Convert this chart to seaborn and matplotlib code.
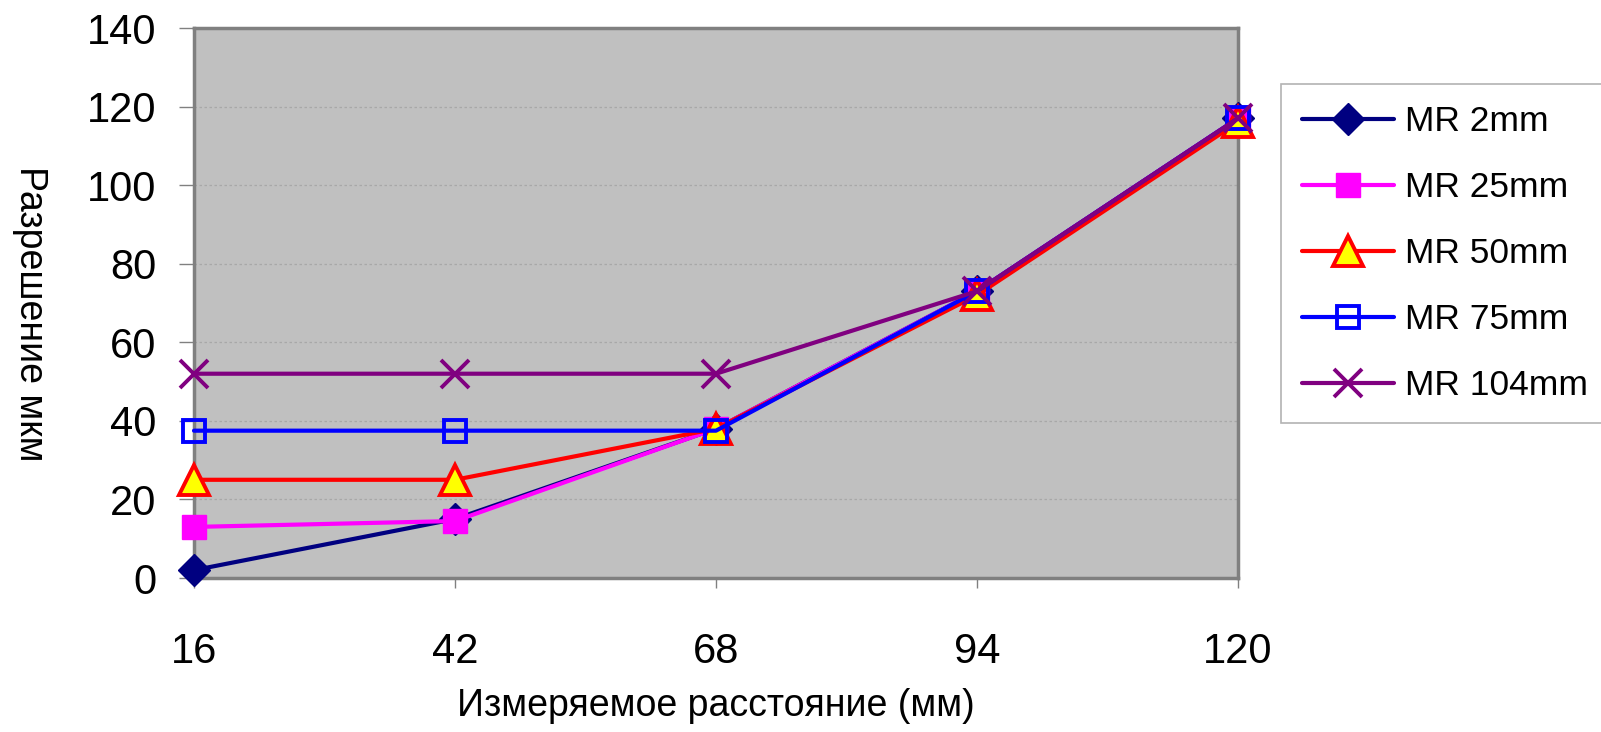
import matplotlib
matplotlib.use("Agg")
import matplotlib.pyplot as plt
import seaborn as sns
import pandas as pd

distances = [16, 42, 68, 94, 120]
mr_2mm = [2, 15, 38, 73, 117]
mr_25mm = [13, 14.5, 38, 73, 117]
mr_50mm = [25, 25, 38, 72, 116]
mr_75mm = [37.5, 37.5, 37.5, 73, 117]
mr_104mm = [52, 52, 52, 73, 117]
series_names = ["MR 2mm", "MR 25mm", "MR 50mm", "MR 75mm", "MR 104mm"]
y_ticks = [0, 20, 40, 60, 80, 100, 120, 140]
x_label = "Измеряемое расстояние (мм)"
y_label = "Разрешение мкм"

sns.set_theme(style="white")
plt.rcParams['font.family'] = ['Liberation Sans', 'DejaVu Sans']

fig = plt.figure(figsize=(16.01, 7.32), dpi=100)
ax = fig.add_axes([194/1601, 1-578/732, (1238-194)/1601, (578-28)/732])
ax.set_facecolor("#C0C0C0")

styles = [
    dict(color="#000080", marker="D", markersize=16, markerfacecolor="#000080", markeredgecolor="#000080", markeredgewidth=1),
    dict(color="#FF00FF", marker="s", markersize=17, markerfacecolor="#FF00FF", markeredgecolor="#FF00FF", markeredgewidth=1),
    dict(color="#FF0000", marker="^", markersize=22, markerfacecolor="#FFFF00", markeredgecolor="#FF0000", markeredgewidth=2.8),
    dict(color="#0000FF", marker="s", markersize=16, markerfacecolor="none", markeredgecolor="#0000FF", markeredgewidth=2.8),
    dict(color="#800080", marker="x", markersize=20, markeredgecolor="#800080", markeredgewidth=2.8),
]
data = [mr_2mm, mr_25mm, mr_50mm, mr_75mm, mr_104mm]
for name, vals, st in zip(series_names, data, styles):
    df = pd.DataFrame({"x": distances, "y": vals})
    sns.lineplot(data=df, x="x", y="y", ax=ax, label=name, linewidth=3,
                 clip_on=False, zorder=3, **st)

ax.set_xlim(16, 120)
ax.set_ylim(0, 140)
ax.set_xticks(distances)
ax.set_xticklabels([str(d) for d in distances])
ax.set_yticks(y_ticks)
ax.yaxis.grid(True, linestyle=(0, (2, 2)), color="#A8A8A8", linewidth=0.9)
ax.xaxis.grid(False)
ax.set_axisbelow(True)

for s in ax.spines.values():
    s.set_color("#808080")
    s.set_linewidth(2.5)
    s.set_visible(True)

ax.tick_params(axis="x", which="major", direction="out", length=7, width=1,
               color="#808080", pad=32, labelsize=30, labelcolor="black", bottom=True)
ax.tick_params(axis="y", which="major", direction="out", length=11, width=1,
               color="#808080", pad=16, labelsize=30, labelcolor="black", left=True)

ax.set_xlabel(x_label, fontsize=27, color="black")
ax.xaxis.set_label_coords(0.5, -0.2)
ax.set_ylabel(y_label, fontsize=27, color="black", rotation=-90, va="center")
ax.yaxis.set_label_coords(-0.157, 0.48)

leg = ax.legend(loc="upper left", bbox_to_anchor=(1281/1601, 1-84/732),
                bbox_transform=fig.transFigure, fontsize=25.5, frameon=True,
                fancybox=False, edgecolor="#A0A0A0", facecolor="white",
                handlelength=2.6, labelspacing=0.93, borderpad=0.6,
                handletextpad=0.3, borderaxespad=0)
leg.get_frame().set_linewidth(1.2)
for t in leg.get_texts():
    t.set_color("black")

fig.savefig("out.png", dpi=100)
